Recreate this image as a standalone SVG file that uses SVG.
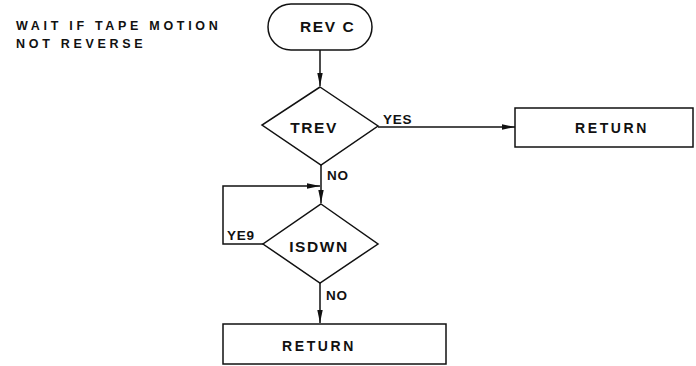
<svg xmlns="http://www.w3.org/2000/svg" width="696" height="366" viewBox="0 0 696 366">
<style>
  .shape { fill: none; stroke: #111; stroke-width: 1.5; }
  .line { fill: none; stroke: #111; stroke-width: 1.5; }
  text { font-family: "Liberation Sans", Arial, sans-serif; fill: #111; font-weight: bold; }
  .note { font-size: 12.5px; letter-spacing: 3.7px; }
  .title { font-size: 15.5px; letter-spacing: 1.6px; }
  .lbl { font-size: 13.5px; letter-spacing: 0.8px; }
  .box { font-size: 14px; letter-spacing: 2.6px; }
</style>
<defs>
  <marker id="arr" markerUnits="userSpaceOnUse" markerWidth="14" markerHeight="8" refX="13" refY="4" orient="auto">
    <path d="M0,1.3 L13,4 L0,6.7 Z" fill="#111"/>
  </marker>
</defs>
<text class="note" x="16" y="30">WAIT IF TAPE MOTION</text>
<text class="note" x="16" y="48">NOT REVERSE</text>
<g id="revc">
  <rect class="shape" x="268" y="4" width="104" height="46" rx="23" ry="23"/>
  <text class="title" x="300" y="32">REV C</text>
</g>
<g id="trev">
  <path class="shape" d="M320,87 L378,126 L321,165 L262,125 Z"/>
  <text class="title" x="314" y="133" text-anchor="middle">TREV</text>
</g>
<g id="return1">
  <rect class="shape" x="515" y="108" width="178" height="39"/>
  <text class="box" x="612" y="133" text-anchor="middle">RETURN</text>
</g>
<g id="isdwn">
  <path class="shape" d="M321,204 L378,244 L320,283 L263,244 Z"/>
  <text class="title" x="319" y="252" text-anchor="middle">ISDWN</text>
</g>
<g id="return2">
  <rect class="shape" x="223" y="324" width="223" height="40"/>
  <text class="box" x="319" y="351" text-anchor="middle">RETURN</text>
</g>
<g id="connectors">
  <path class="line" d="M320,50 L320,86" marker-end="url(#arr)"/>
  <path class="line" d="M378,127 L515,127" marker-end="url(#arr)"/>
  <path class="line" d="M321,165 L321,203" marker-end="url(#arr)"/>
  <path class="line" d="M263,244 L223,244 L223,186 L320,186" marker-end="url(#arr)"/>
  <path class="line" d="M320,283 L320,323" marker-end="url(#arr)"/>
  <text class="lbl" x="383" y="124">YES</text>
  <text class="lbl" x="327" y="180">NO</text>
  <text class="lbl" x="227" y="240">YE9</text>
  <text class="lbl" x="326" y="300">NO</text>
</g>
</svg>
